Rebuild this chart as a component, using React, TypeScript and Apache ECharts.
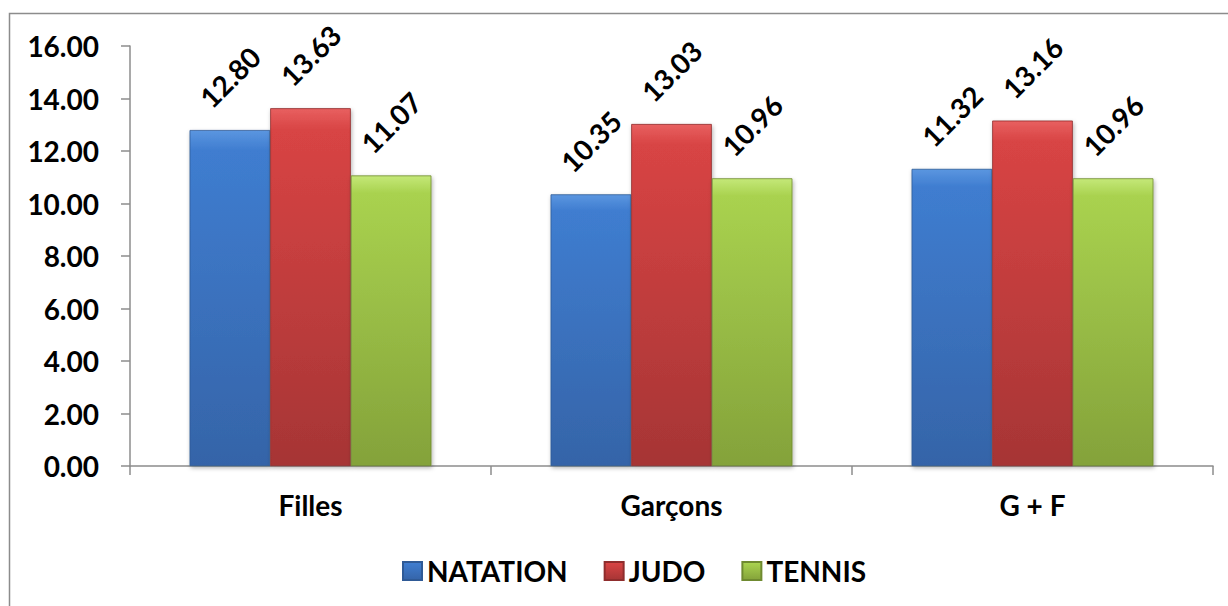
import React, { useEffect, useRef } from "react";
import * as echarts from "echarts";

const categories = ["Filles", "Garçons", "G + F"];
const seriesNames = ["NATATION", "JUDO", "TENNIS"];
const natation = [12.8, 10.35, 11.32];
const judo = [13.63, 13.03, 13.16];
const tennis = [11.07, 10.96, 10.96];
const yTicks = { min: 0, max: 16, interval: 2 };

const FONT = "Lato";
const FS = 28;

function grad(top: string, mid: string, bottom: string) {
  return new echarts.graphic.LinearGradient(0, 0, 0, 1, [
    { offset: 0, color: top },
    { offset: 0.06, color: mid },
    { offset: 1, color: bottom },
  ]);
}

export default function App() {
  const ref = useRef<HTMLDivElement>(null);
  useEffect(() => {
    if (!ref.current) return;
    const chart = echarts.init(ref.current, undefined, { renderer: "svg" });
    const labelStyle = {
      show: true,
      position: "top" as const,
      rotate: 45,
      align: "center" as const,
      verticalAlign: "middle" as const,
      distance: 53,
      fontFamily: FONT,
      fontWeight: "bold" as const,
      fontSize: FS,
      color: "#000",
      formatter: (p: any) => Number(p.value).toFixed(2),
    };
    const colors = [
      grad("#5b96e0", "#3f7dd0", "#3564a8"),
      grad("#e86060", "#d84444", "#a63535"),
      grad("#c4e878", "#a9d24f", "#84a23a"),
    ];
    const borderColors = ["#2f5a96", "#8f2d2d", "#6f8a30"];
    const data = [natation, judo, tennis];
    chart.setOption({
      animation: false,
      grid: { left: 130, right: 15, top: 46, bottom: 140, containLabel: false },
      graphic: [
        {
          type: "rect",
          shape: { x: 9.5, y: 13.5, width: 1240, height: 620 },
          style: { fill: "none", stroke: "#8c8c8c", lineWidth: 1.5 },
          silent: true,
        },
      ],
      legend: {
        left: 397,
        top: 552,
        itemWidth: 19,
        itemHeight: 18,
        itemGap: 36,
        icon: "rect",
        textStyle: {
          fontFamily: FONT,
          fontWeight: "bold",
          fontSize: FS,
          color: "#000",
        },
        data: seriesNames,
      },
      xAxis: {
        type: "category",
        data: categories,
        axisLine: { lineStyle: { color: "#8c8c8c", width: 1.5 } },
        axisTick: { show: true, length: 9, lineStyle: { color: "#8c8c8c", width: 1.5 } },
        axisLabel: {
          margin: 25,
          fontFamily: FONT,
          fontWeight: "bold",
          fontSize: FS,
          color: "#000",
        },
      },
      yAxis: {
        type: "value",
        min: yTicks.min,
        max: yTicks.max,
        interval: yTicks.interval,
        splitLine: { show: false },
        axisLine: { show: true, lineStyle: { color: "#8c8c8c", width: 1.5 } },
        axisTick: { show: true, length: 9, lineStyle: { color: "#8c8c8c", width: 1.5 } },
        axisLabel: {
          margin: 31,
          fontFamily: FONT,
          fontWeight: "bold",
          fontSize: FS,
          color: "#000",
          formatter: (v: number) => v.toFixed(2),
        },
      },
      series: seriesNames.map((name, i) => ({
        name,
        type: "bar",
        data: data[i],
        barGap: "0%",
        barCategoryGap: "33%",
        itemStyle: {
          color: colors[i],
          borderColor: borderColors[i],
          borderWidth: 0.8,
          shadowColor: "rgba(0,0,0,0.3)",
          shadowBlur: 4,
          shadowOffsetX: 1,
          shadowOffsetY: 2,
        },
        label: labelStyle,
      })),
    });
    return () => chart.dispose();
  }, []);
  return (
    <div
      ref={ref}
      style={{ position: "fixed", left: 0, top: 0, width: 1228, height: 606, background: "#fff" }}
    />
  );
}
